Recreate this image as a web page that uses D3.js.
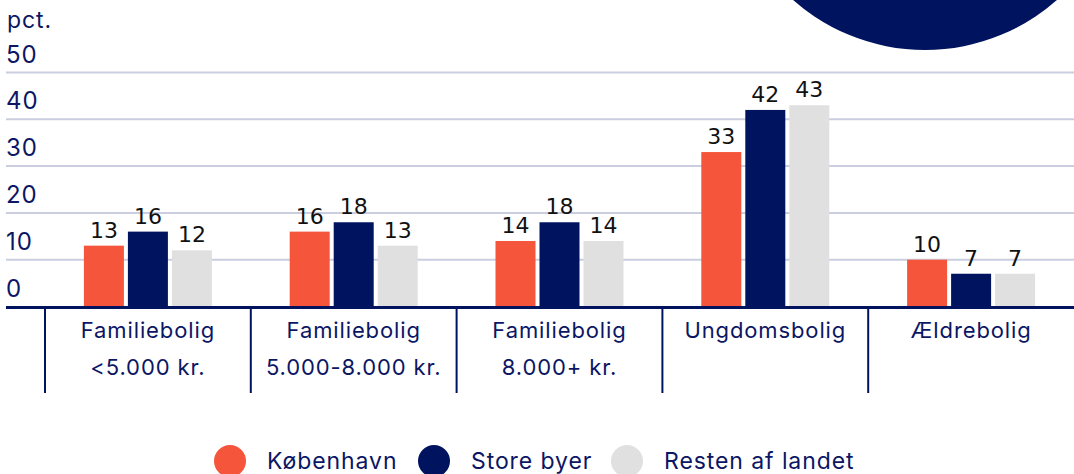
<!DOCTYPE html>
<html>
<head>
<meta charset="utf-8">
<script src="https://cdn.jsdelivr.net/npm/d3@7/dist/d3.min.js"></script>
<style>
  body { margin: 0; background: #fff; }
  svg { display: block; }
  .navytxt { fill: #0b1664; font-family: Inter, "Open Sans", sans-serif; letter-spacing: 0.04em; }
</style>
</head>
<body>
<div id="chart"></div>
<script>
// ----------------------------------------------------------------------------
// data
// ----------------------------------------------------------------------------
const categories = [
  ['Familiebolig', '<5.000 kr.'],
  ['Familiebolig', '5.000-8.000 kr.'],
  ['Familiebolig', '8.000+ kr.'],
  ['Ungdomsbolig'],
  ['Ældrebolig'],
];
const seriesNames = ['København', 'Store byer', 'Resten af landet'];
const kobenhavn = [13, 16, 14, 33, 10];
const storeByer = [16, 18, 18, 42, 7];
const restenAfLandet = [12, 13, 14, 43, 7];
const yTicks = [0, 10, 20, 30, 40, 50];

const colors = ['#f5553b', '#00135f', '#e0e0e0'];
const navy = '#00135f';

const W = 1074, H = 474;
const svg = d3.select('#chart').append('svg').attr('width', W).attr('height', H);

// big decorative circle top right
svg.append('circle').attr('cx', 925).attr('cy', -149).attr('r', 199).attr('fill', navy);

// ----------------------------------------------------------------------------
// scales
const catKeys = categories.map(c => c.join(' '));
const x0 = d3.scaleBand().domain(catKeys).range([45, 1074]);
const x1 = d3.scaleBand().domain(seriesNames).range([0, 128]).paddingInner(4 / 44);
const y = d3.scaleLinear().domain([0, 50]).range([306.5, 72.5]);

// gridlines + y labels
const grid = svg.append('g');
yTicks.forEach(t => {
  if (t > 0) {
    grid.append('line')
      .attr('x1', 6).attr('x2', W)
      .attr('y1', y(t)).attr('y2', y(t))
      .attr('stroke', '#cacee0').attr('stroke-width', 2);
  }
  grid.append('text').attr('class', 'navytxt')
    .attr('x', 6).attr('y', y(t) - 10)
    .attr('font-size', 24)
    .text(t);
});
svg.append('text').attr('class', 'navytxt')
  .attr('x', 7).attr('y', 28).attr('font-size', 23).text('pct.');

// bars
const table = categories.map((c, i) => ({
  key: catKeys[i],
  values: [kobenhavn[i], storeByer[i], restenAfLandet[i]]
}));

const groups = svg.append('g').selectAll('g').data(table).enter().append('g')
  .attr('transform', d => `translate(${x0(d.key) + (x0.bandwidth() - 128) / 2},0)`);

groups.selectAll('rect')
  .data(d => d.values.map((v, j) => ({ s: seriesNames[j], v: v, j: j })))
  .enter().append('rect')
  .attr('x', d => x1(d.s))
  .attr('width', x1.bandwidth())
  .attr('y', d => y(d.v))
  .attr('height', d => y(0) - y(d.v))
  .attr('fill', d => colors[d.j]);

groups.selectAll('text.val')
  .data(d => d.values.map((v, j) => ({ s: seriesNames[j], v: v })))
  .enter().append('text').attr('class', 'val')
  .attr('x', d => x1(d.s) + x1.bandwidth() / 2)
  .attr('y', d => y(d.v) - 8)
  .attr('text-anchor', 'middle')
  .attr('font-family', '"DejaVu Sans", sans-serif')
  .attr('font-size', 22)
  .attr('fill', '#111')
  .text(d => d.v);

// baseline
svg.append('line').attr('x1', 6).attr('x2', W)
  .attr('y1', y(0) + 1).attr('y2', y(0) + 1)
  .attr('stroke', navy).attr('stroke-width', 3);

// category separators + labels
catKeys.forEach((k, i) => {
  svg.append('line')
    .attr('x1', x0(k)).attr('x2', x0(k))
    .attr('y1', y(0)).attr('y2', 393)
    .attr('stroke', navy).attr('stroke-width', 2);
  const t = svg.append('text').attr('class', 'navytxt')
    .attr('text-anchor', 'middle')
    .attr('font-size', 22);
  categories[i].forEach((line, li) => {
    t.append('tspan')
      .attr('x', x0(k) + x0.bandwidth() / 2)
      .attr('y', 338 + li * 37)
      .text(line);
  });
});

// legend
const legX = [230, 434, 627];
seriesNames.forEach((s, i) => {
  svg.append('circle').attr('cx', legX[i]).attr('cy', 461).attr('r', 16).attr('fill', colors[i]);
  svg.append('text').attr('class', 'navytxt')
    .attr('x', legX[i] + 37).attr('y', 469)
    .attr('font-size', 23)
    .text(s);
});
</script>
</body>
</html>
